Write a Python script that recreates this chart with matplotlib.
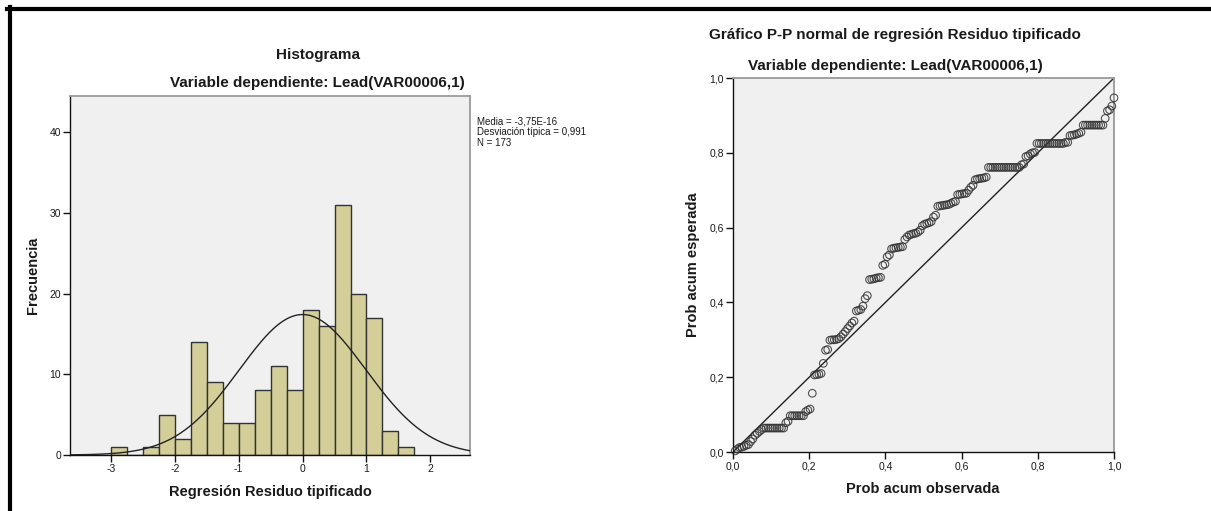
import math
import numpy as np
import matplotlib
matplotlib.use("Agg")
import matplotlib.pyplot as plt
from matplotlib.lines import Line2D

# ---------------- data ----------------
hist_bin_left = [-3.0, -2.75, -2.5, -2.25, -2.0, -1.75, -1.5, -1.25, -1.0, -0.75,
                 -0.5, -0.25, 0.0, 0.25, 0.5, 0.75, 1.0, 1.25, 1.5]
hist_counts = [1, 0, 1, 5, 2, 14, 9, 4, 4, 8, 11, 8, 18, 16, 31, 20, 17, 3, 1]
hist_bin_width = 0.25
hist_mean = -3.75e-16
hist_sd = 0.991
hist_n = 173
hist_xticks = [-3, -2, -1, 0, 1, 2]
hist_yticks = [0, 10, 20, 30, 40]
hist_stats = ["Media = -3,75E-16", "Desviación típica = 0,991", "N = 173"]

# expected cumulative probability of each sorted residual
pp_expected = [
    0.003,
    0.008,
    0.012, 0.013, 0.015, 0.018, 0.020,
    0.028, 0.035,
    0.045, 0.050, 0.055, 0.060, 0.064, 0.064, 0.064, 0.064, 0.064, 0.064,
    0.064, 0.064, 0.064, 0.064,
    0.078, 0.082, 0.097, 0.097, 0.097, 0.097, 0.097, 0.097, 0.097,
    0.108, 0.112, 0.115, 0.157,
    0.206, 0.207, 0.208, 0.210,
    0.237, 0.272, 0.274, 0.299, 0.300, 0.300, 0.301, 0.303,
    0.308, 0.315, 0.322, 0.330, 0.337, 0.345, 0.350, 0.377, 0.379, 0.381, 0.390,
    0.410, 0.418, 0.461, 0.462, 0.463, 0.465, 0.466, 0.467,
    0.499, 0.502, 0.522, 0.527, 0.543, 0.545, 0.546, 0.547, 0.548, 0.549,
    0.568, 0.575, 0.580, 0.582, 0.584, 0.585, 0.588, 0.593,
    0.605, 0.609, 0.611, 0.613, 0.616, 0.628, 0.633, 0.657, 0.658, 0.659,
    0.660, 0.661, 0.662, 0.665, 0.668, 0.670,
    0.688, 0.689, 0.690, 0.691, 0.692, 0.700, 0.708, 0.713, 0.728, 0.730,
    0.731, 0.732, 0.733, 0.735,
    0.761, 0.761, 0.761, 0.761, 0.761, 0.761, 0.761, 0.761, 0.761, 0.761,
    0.761, 0.761, 0.761, 0.761, 0.761, 0.768, 0.770,
    0.790, 0.792, 0.797, 0.800, 0.801,
    0.825, 0.825, 0.825, 0.825, 0.825, 0.825, 0.825, 0.825, 0.825, 0.825,
    0.825, 0.825, 0.825, 0.828, 0.828,
    0.846, 0.847, 0.848, 0.850, 0.852, 0.855,
    0.874, 0.874, 0.874, 0.874, 0.874, 0.874, 0.874, 0.874, 0.874, 0.874,
    0.892,
    0.912, 0.915, 0.925,
    0.947,
]
pp_ticks = [0.0, 0.2, 0.4, 0.6, 0.8, 1.0]
pp_ticklabels = ["0,0", "0,2", "0,4", "0,6", "0,8", "1,0"]

# ---------------- style ----------------
plt.rcParams["font.family"] = ["Liberation Sans", "DejaVu Sans"]
W, H = 1211, 511
fig = plt.figure(figsize=(W / 100, H / 100), dpi=100)
fig.patch.set_facecolor("white")

def px_ax(left, top, right, bottom):
    return fig.add_axes([left / W, 1 - bottom / H, (right - left) / W, (bottom - top) / H])

def ftext(x, y, s, **kw):
    fig.text(x / W, 1 - y / H, s, **kw)

AXBG = "#f0f0f0"
TXT = "#1a1a1a"

def style_axes(ax):
    ax.set_facecolor(AXBG)
    for s in ["left", "bottom"]:
        ax.spines[s].set_color("#111111")
        ax.spines[s].set_linewidth(1.0)
    for s in ["top", "right"]:
        ax.spines[s].set_color("#9a9a9a")
        ax.spines[s].set_linewidth(1.3)
    ax.tick_params(axis="both", direction="out", length=5, width=1, color="#111111",
                   labelsize=7.5, labelcolor=TXT, pad=1.5)
    ax.tick_params(top=False, right=False)

# ---------------- histogram ----------------
ax1 = px_ax(70, 96, 470, 455)
style_axes(ax1)
xmin, xmax = -3.64, 2.62
ax1.set_xlim(xmin, xmax)
ax1.set_ylim(0, 44.5)
ax1.bar(hist_bin_left, hist_counts, width=hist_bin_width, align="edge",
        color="#d4cf98", edgecolor="#333333", linewidth=1.0, zorder=2)
xs = np.linspace(xmin, xmax, 500)
pdf = np.exp(-0.5 * ((xs - hist_mean) / hist_sd) ** 2) / (hist_sd * math.sqrt(2 * math.pi))
ax1.plot(xs, hist_n * hist_bin_width * pdf, color="#222222", linewidth=1.0, zorder=3)
ax1.set_xticks(hist_xticks)
ax1.set_xticklabels([str(t) for t in hist_xticks])
ax1.set_yticks(hist_yticks)
ax1.set_yticklabels([str(t) for t in hist_yticks])

ftext(318, 55, "Histograma", ha="center", va="center", fontsize=11, fontweight="bold", color=TXT)
ftext(317, 83, "Variable dependiente: Lead(VAR00006,1)", ha="center", va="center",
      fontsize=11, fontweight="bold", color=TXT)
ftext(33, 275, "Frecuencia", ha="center", va="center", rotation=90, fontsize=10.5,
      fontweight="bold", color=TXT)
ftext(270, 492, "Regresión Residuo tipificado", ha="center", va="center", fontsize=10.5,
      fontweight="bold", color=TXT)
for i, line in enumerate(hist_stats):
    ftext(477, 121 + i * 10.8, line, ha="left", va="center", fontsize=7, color=TXT)

# ---------------- P-P plot ----------------
ax2 = px_ax(733, 78, 1114, 452)
style_axes(ax2)
ax2.set_xlim(0, 1)
ax2.set_ylim(0, 1)
n_pp = len(pp_expected)
pp_observed = np.arange(1, n_pp + 1) / n_pp
ax2.plot([0, 1], [0, 1], color="#222222", linewidth=1.0, zorder=2)
ax2.scatter(pp_observed, pp_expected, s=30, facecolors="none", edgecolors="#333333",
            linewidths=0.8, alpha=0.85, zorder=3, clip_on=False)
ax2.set_xticks(pp_ticks)
ax2.set_xticklabels(pp_ticklabels)
ax2.set_yticks(pp_ticks)
ax2.set_yticklabels(pp_ticklabels)

ftext(895, 35, "Gráfico P-P normal de regresión Residuo tipificado", ha="center", va="center",
      fontsize=11, fontweight="bold", color=TXT)
ftext(895, 66, "Variable dependiente: Lead(VAR00006,1)", ha="center", va="center",
      fontsize=11, fontweight="bold", color=TXT)
ftext(693, 265, "Prob acum esperada", ha="center", va="center", rotation=90, fontsize=10.5,
      fontweight="bold", color=TXT)
ftext(923, 489, "Prob acum observada", ha="center", va="center", fontsize=10.5,
      fontweight="bold", color=TXT)

# ---------------- frame lines (top / left border) ----------------
fig.add_artist(Line2D([7 / W, 1.0], [1 - 9.5 / H, 1 - 9.5 / H], color="black",
                      linewidth=3.0, transform=fig.transFigure))
fig.add_artist(Line2D([9.5 / W, 9.5 / W], [1 - 7.5 / H, 0.0], color="black",
                      linewidth=3.0, transform=fig.transFigure))

fig.savefig("out.png", dpi=100)
